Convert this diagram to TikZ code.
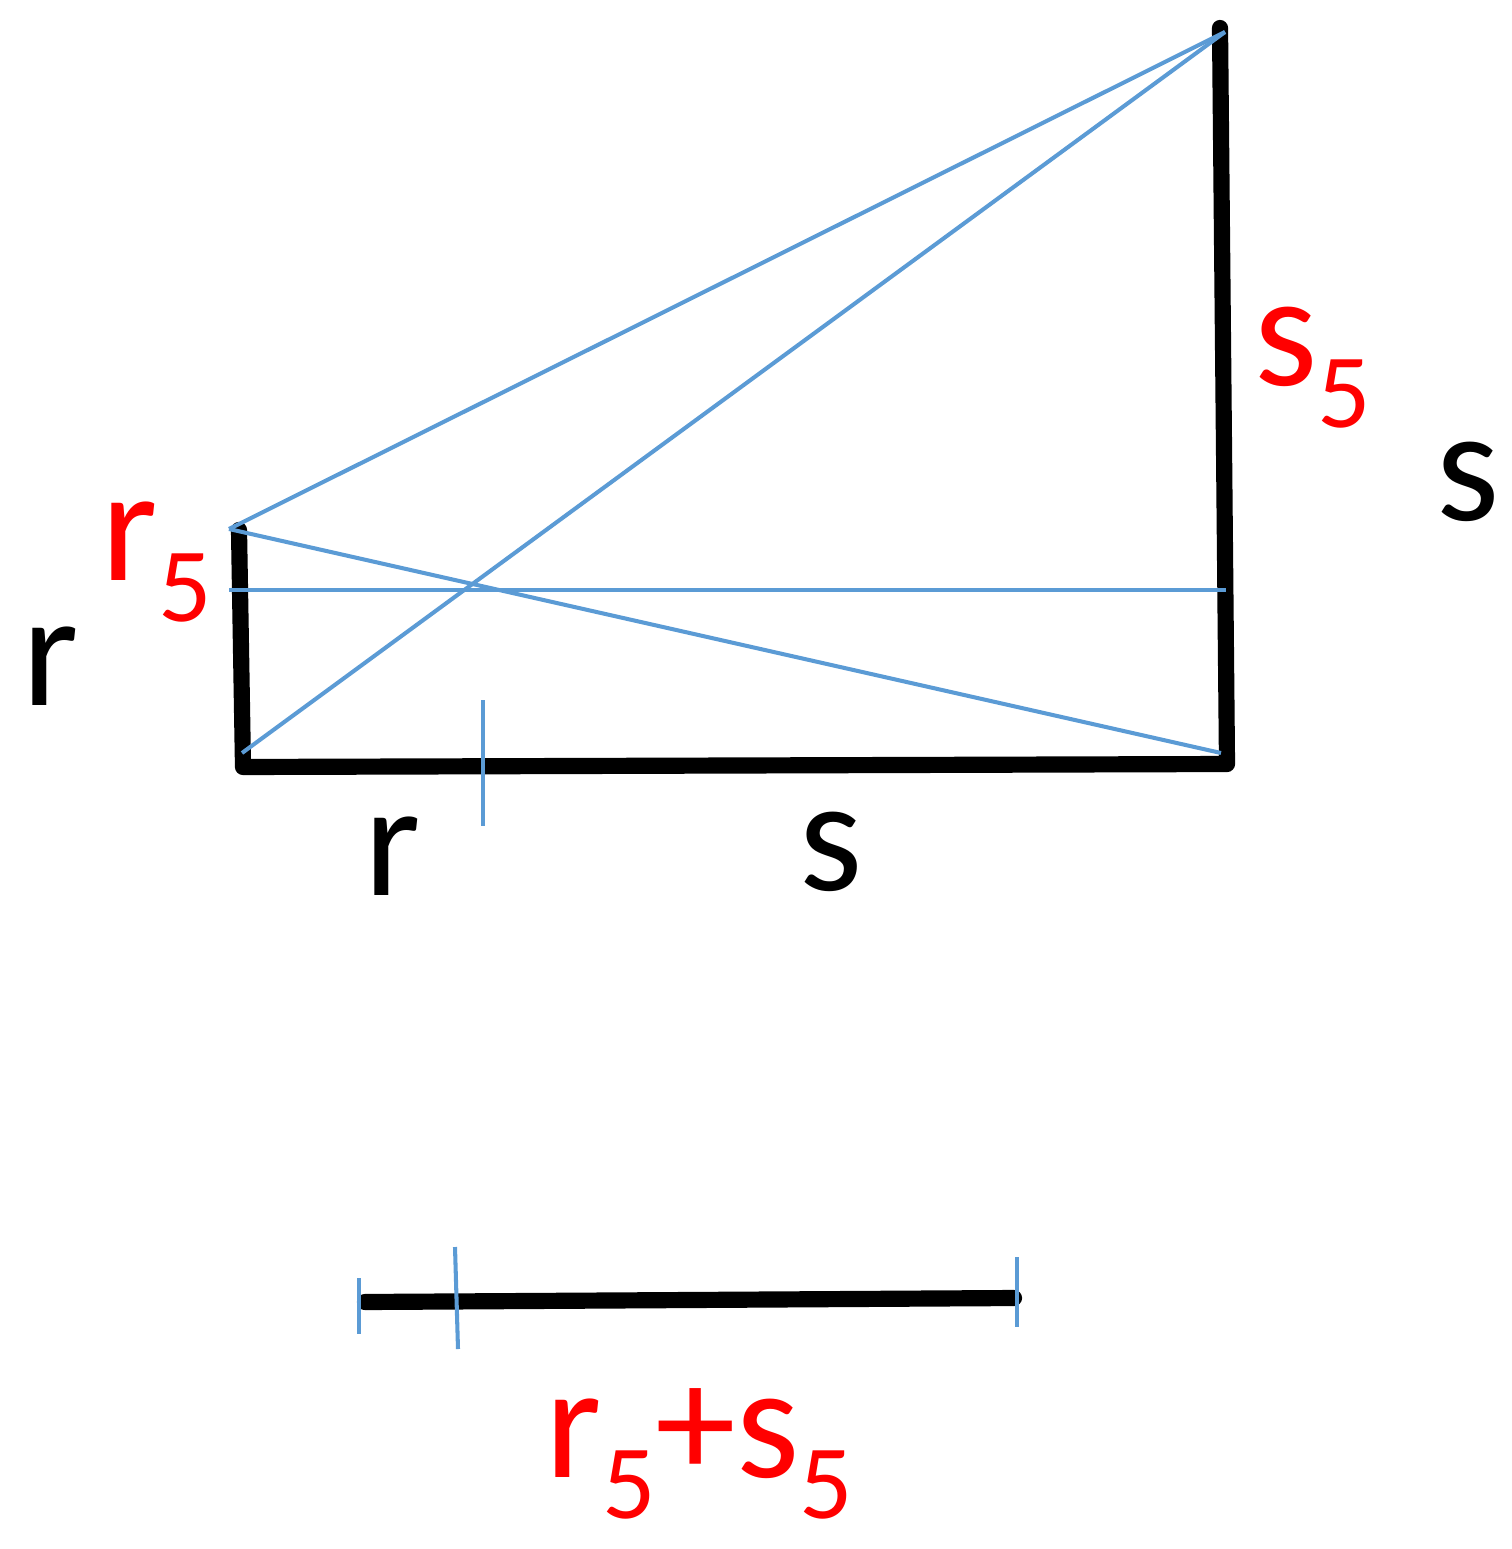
\documentclass[tikz,border=0pt]{standalone}
\usepackage{fontspec}
\setmainfont{Carlito}
\definecolor{lblue}{HTML}{5B9BD5}
\definecolor{lred}{HTML}{FF0000}
\newcommand\mysub[1]{\raisebox{-0.41cm}{\fontsize{30}{30}\selectfont #1}}
\begin{document}
\begin{tikzpicture}[x=0.01cm,y=-0.01cm,
  bar/.style={line width=4.6pt,line cap=round,line join=round,black},
  thinline/.style={line width=1.15pt,lblue},
  lab/.style={inner sep=0pt,font=\fontsize{46}{46}\selectfont},
  redlab/.style={lab,text=lred,anchor=base west},
  ]
\useasboundingbox (0,0) rectangle (1511,1549);
% corner coordinates
\coordinate (LT) at (239,530);
\coordinate (LB) at (243,767);
\coordinate (RB) at (1227,764);
\coordinate (RT) at (1220,28);
% blue construction points
\coordinate (A) at (229,529);
\coordinate (T) at (1225,32);
\coordinate (B) at (242,753);
\coordinate (C) at (1221,753);
\coordinate (H1) at (229,590);
\coordinate (H2) at (1226,590);
\coordinate (K1) at (483,700);
\coordinate (K2) at (483,826);
% lower segment
\coordinate (S1) at (365,1302);
\coordinate (S2) at (1014,1298);
\coordinate (P1) at (359,1278);
\coordinate (P2) at (359,1334);
\coordinate (Q1) at (455,1247);
\coordinate (Q2) at (458,1349);
\coordinate (U1) at (1017,1257);
\coordinate (U2) at (1017,1327);

\draw[bar] (LT) -- (LB) -- (RB) -- (RT);
\draw[thinline] (A) -- (T);
\draw[thinline] (B) -- (T);
\draw[thinline] (A) -- (C);
\draw[thinline] (H1) -- (H2);
\draw[thinline] (K1) -- (K2);

\draw[bar] (S1) -- (S2);
\draw[thinline] (P1) -- (P2);
\draw[thinline] (Q1) -- (Q2);
\draw[thinline] (U1) -- (U2);

% labels
\node[lab,anchor=base] (rL) at (51,705) {r};
\node[lab,anchor=base] (rB) at (393,895) {r};
\node[lab,anchor=base] (sB) at (831,890) {s};
\node[lab,anchor=base] (sR) at (1468,520) {s};
\node[redlab] (r5) at (101,580) {r\mysub{5}};
\node[redlab] (s5) at (1254,386) {s\mysub{5}};
\node[redlab] (rs5) at (545,1477) {r\mysub{5}+s\mysub{5}};
\end{tikzpicture}
\end{document}
